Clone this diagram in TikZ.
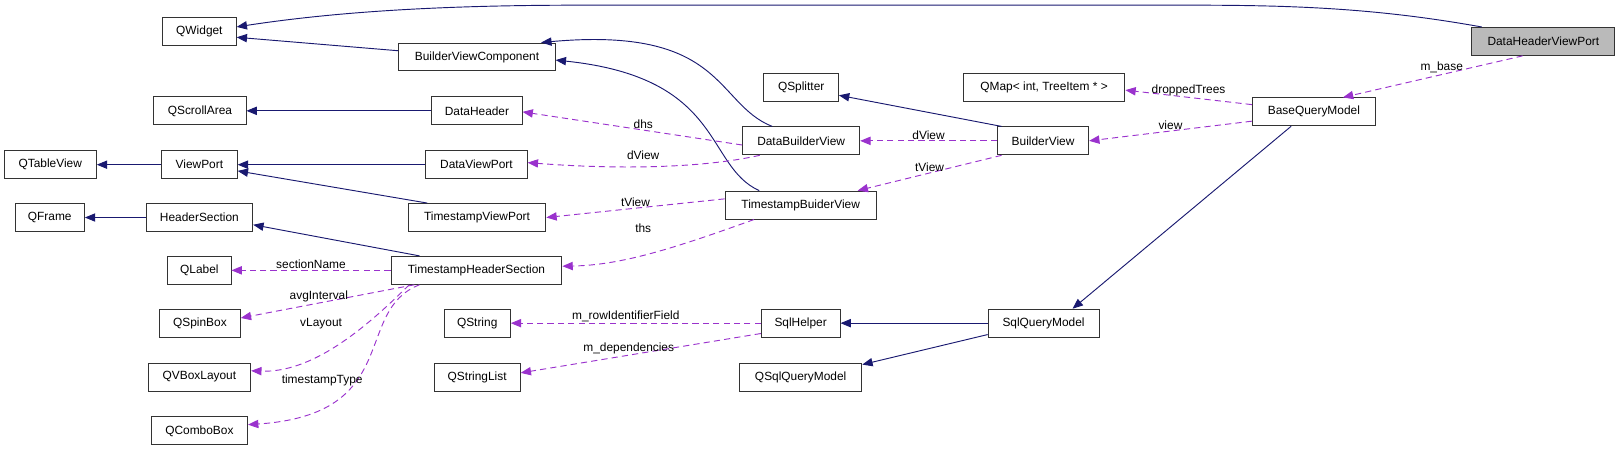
\documentclass[tikz,border=0pt]{standalone}
\usepackage{fontspec}
\setmainfont{Liberation Sans}
\usetikzlibrary{arrows.meta}
\begin{document}
\begin{tikzpicture}[x=1pt,y=-1pt,
  font=\fontsize{11.5}{13}\selectfont,
  cls/.style={draw=black!80,line width=0.9pt,minimum height=27pt,inner sep=0pt,fill=white},
  inh/.style={draw={rgb,255:red,25;green,25;blue,112},line width=0.9pt,
    -{Triangle[length=10pt,width=8pt]}},
  use/.style={draw={rgb,255:red,154;green,50;blue,205},line width=0.9pt,dash pattern=on 6pt off 4pt,
    -{Triangle[length=10pt,width=8pt]}},
  lbl/.style={inner sep=1pt}]
\useasboundingbox (0,0) rectangle (1565,435);

% classes
\node[cls,minimum width=71pt] (qwidget) at (192.5,30) {QWidget};
\node[cls,minimum width=151pt] (bvc) at (460.5,55) {BuilderViewComponent};
\node[cls,minimum width=89pt] (qscroll) at (193,107) {QScrollArea};
\node[cls,minimum width=87pt] (dheader) at (460.5,107) {DataHeader};
\node[cls,minimum width=89pt] (qtable) at (48.5,159) {QTableView};
\node[cls,minimum width=73pt] (viewport) at (192.5,159) {ViewPort};
\node[cls,minimum width=98pt] (dviewport) at (460,159) {DataViewPort};
\node[cls,minimum width=67pt] (qframe) at (48,210) {QFrame};
\node[cls,minimum width=103pt] (hsection) at (192.5,210) {HeaderSection};
\node[cls,minimum width=133pt] (tviewport) at (460.5,210) {TimestampViewPort};
\node[cls,minimum width=61pt] (qlabel) at (192.5,261) {QLabel};
\node[cls,minimum width=165pt] (thsection) at (460,261) {TimestampHeaderSection};
\node[cls,minimum width=78pt] (qspin) at (193,312) {QSpinBox};
\node[cls,minimum width=99pt] (qvbox) at (192.5,364) {QVBoxLayout};
\node[cls,minimum width=93pt] (qcombo) at (192.5,416) {QComboBox};
\node[cls,minimum width=64pt] (qstring) at (460.7,312) {QString};
\node[cls,minimum width=83pt] (qstrlist) at (460.7,364) {QStringList};
\node[cls,minimum width=72pt] (qsplitter) at (773.5,84) {QSplitter};
\node[cls,minimum width=113pt] (dbview) at (773.5,136) {DataBuilderView};
\node[cls,minimum width=146pt] (tbview) at (773,198) {TimestampBuiderView};
\node[cls,minimum width=76pt] (sqlhelper) at (773,312) {SqlHelper};
\node[cls,minimum width=118pt] (qsqlmodel) at (773,364) {QSqlQueryModel};
\node[cls,minimum width=156pt] (qmap) at (1008,84) {QMap< int, TreeItem * >};
\node[cls,minimum width=88pt] (bview) at (1007,136) {BuilderView};
\node[cls,minimum width=107pt] (sqlmodel) at (1007.5,312) {SqlQueryModel};
\node[cls,minimum width=119pt] (bqmodel) at (1268.5,108) {BaseQueryModel};
\node[cls,minimum width=138pt,fill=black!27] (dhviewport) at (1490,40) {DataHeaderViewPort};

% inheritance
\draw[inh] ([xshift=10pt]dhviewport.north west) .. controls (1330,8) and (1250,5) .. (1150,5)
  -- (560,5) .. controls (420,5) and (320,12) .. ([yshift=4pt]qwidget.east);
\draw[inh] ([yshift=6pt]bvc.west) -- ([yshift=-6pt]qwidget.east);
\draw[inh] ([xshift=-28pt]dbview.north) .. controls (690,100) and (700,25) .. ([xshift=-14pt]bvc.north east);
\draw[inh] ([xshift=-40pt]tbview.north) .. controls (680,160) and (700,75) .. ([yshift=-3pt]bvc.east);
\draw[inh] (dheader) -- (qscroll);
\draw[inh] (viewport) -- (qtable);
\draw[inh] (dviewport) -- (viewport);
\draw[inh] ([xshift=-48pt]tviewport.north) -- ([yshift=-6pt]viewport.east);
\draw[inh] (hsection) -- (qframe);
\draw[inh] ([xshift=-55pt]thsection.north) -- ([yshift=-7pt]hsection.east);
\draw[inh] ([xshift=-40pt]bview.north) -- ([yshift=-8pt]qsplitter.east);
\draw[inh] ([xshift=-22pt]bqmodel.south) -- ([xshift=28pt]sqlmodel.north);
\draw[inh] (sqlmodel) -- (sqlhelper);
\draw[inh] ([yshift=-11pt]sqlmodel.west) -- ([yshift=12pt]qsqlmodel.east);

% usage
\draw[use] ([xshift=-20pt]dhviewport.south) -- node[lbl,above,pos=0.45] {m\_base} ([xshift=28pt]bqmodel.north);
\draw[use] ([yshift=7pt]bqmodel.west) -- node[lbl,above] {droppedTrees} ([yshift=-3pt]qmap.east);
\draw[use] ([yshift=-9pt]bqmodel.west) -- node[lbl,above] {view} (bview.east);
\draw[use] (bview) -- node[lbl,above] {dView} (dbview);
\draw[use] ([xshift=-40pt]bview.south) -- node[lbl,above] {tView} ([xshift=55pt]tbview.north);
\draw[use] ([yshift=-4pt]dbview.west) -- node[lbl,above,pos=0.45] {dhs} ([yshift=-1pt]dheader.east);
\draw[use] ([xshift=-40pt]dbview.south) .. controls (680,162) and (600,164) .. ([yshift=2pt]dviewport.east);
\node[lbl] at (621,150) {dView};
\draw[use] ([yshift=6pt]tbview.west) -- node[lbl,above] {tView} (tviewport.east);
\draw[use] ([xshift=-45pt]tbview.south) .. controls (650,240) and (600,256) .. ([yshift=4pt]thsection.east);
\node[lbl] at (621,220) {ths};
\draw[use] (thsection) -- node[lbl,above] {sectionName} (qlabel);
\draw[use] ([xshift=-60pt]thsection.south) -- node[lbl,above,pos=0.55] {avgInterval} ([yshift=5pt]qspin.east);
\draw[use] ([xshift=-65pt]thsection.south) .. controls (350,320) and (300,360) .. ([yshift=6pt]qvbox.east);
\node[lbl] at (310,312) {vLayout};
\draw[use] ([xshift=-55pt]thsection.south) .. controls (340,300) and (390,400) .. ([yshift=6pt]qcombo.east);
\node[lbl] at (311,367) {timestampType};
\draw[use] (sqlhelper) -- node[lbl,above,pos=0.54] {m\_rowIdentifierField} (qstring);
\draw[use] ([yshift=-10pt]sqlhelper.west) -- node[lbl,above,pos=0.55] {m\_dependencies} ([yshift=4pt]qstrlist.east);
\end{tikzpicture}
\end{document}
